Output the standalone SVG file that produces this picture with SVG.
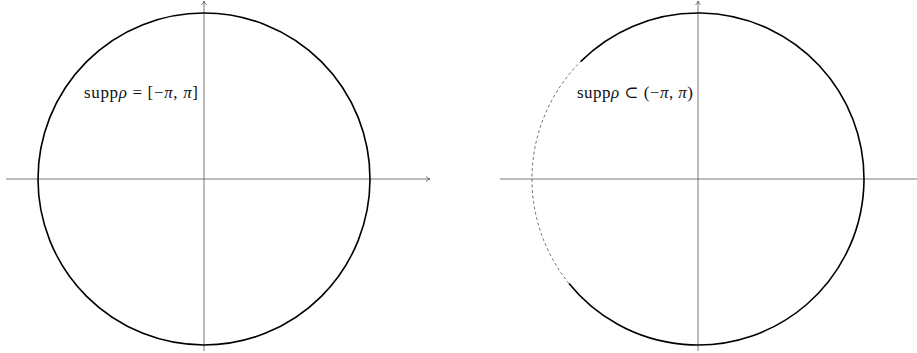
<svg xmlns="http://www.w3.org/2000/svg" width="917" height="353" viewBox="0 0 917 353">
<style>
.axis{stroke:#555;stroke-width:0.8;fill:none}
.circ{stroke:#000;stroke-width:1.6;fill:none}
.dash{stroke:#333;stroke-width:0.7;fill:none;stroke-dasharray:3 2.5}
.lbl{font-family:"Liberation Serif","DejaVu Serif",serif;font-size:17px;fill:#111}
</style>
<defs>
<marker id="arr" viewBox="0 0 8 8" refX="6" refY="4" markerWidth="8" markerHeight="8" markerUnits="userSpaceOnUse" orient="auto">
<path d="M2,1.5 Q4,3.5 6,4 Q4,4.5 2,6.5" fill="none" stroke="#555" stroke-width="0.8"/>
</marker>
</defs>
<g id="connectors">
<line class="axis" x1="6" y1="179" x2="430" y2="179" marker-end="url(#arr)"/>
<line class="axis" x1="204" y1="351" x2="204" y2="1" marker-end="url(#arr)"/>
<line class="axis" x1="500" y1="179" x2="917" y2="179"/>
<line class="axis" x1="698" y1="351" x2="698" y2="1" marker-end="url(#arr)"/>
</g>
<g id="left-circle">
<circle class="circ" cx="204" cy="179" r="166"/>
<text class="lbl" x="84" y="98" textLength="114" lengthAdjust="spacing">supp<tspan font-style="italic">ρ</tspan> = [−<tspan font-style="italic">π</tspan>, <tspan font-style="italic">π</tspan>]</text>
</g>
<g id="right-circle">
<path class="circ" d="M580.6,61.6 A166,166 0 1 1 569,283.5"/>
<path class="dash" d="M569,283.5 A166,166 0 0 1 580.6,61.6"/>
<text class="lbl" x="577" y="98" textLength="116" lengthAdjust="spacing">supp<tspan font-style="italic">ρ</tspan> ⊂ (−<tspan font-style="italic">π</tspan>, <tspan font-style="italic">π</tspan>)</text>
</g>
</svg>
